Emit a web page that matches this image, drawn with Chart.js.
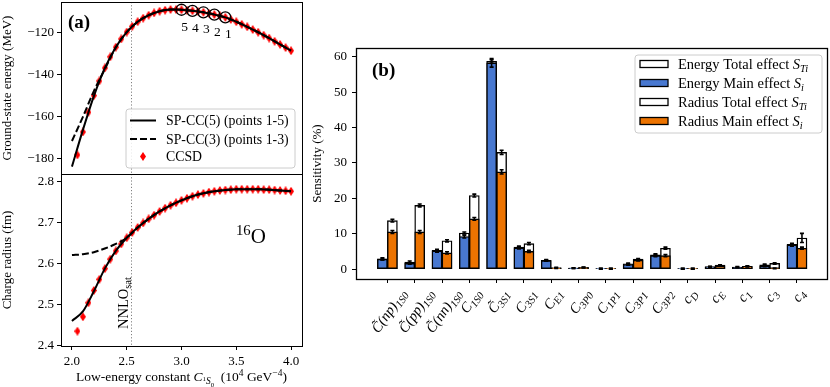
<!DOCTYPE html>
<html>
<head>
<meta charset="utf-8">
<script src="https://cdn.jsdelivr.net/npm/chart.js@4"></script>
<style>
  body { margin: 0; background: #fff; }
  #wrap { position: relative; width: 830px; height: 387px; overflow: hidden; background: #fff; }
  canvas { position: absolute; }
</style>
</head>
<body>
<div id="wrap">
  <canvas id="energyCanvas" width="320" height="176" style="left:0;top:0;width:320px;height:176px"></canvas>
  <canvas id="radiusCanvas" width="320" height="215" style="left:0;top:172px;width:320px;height:215px"></canvas>
  <canvas id="sensCanvas" width="525" height="387" style="left:305px;top:0;width:525px;height:387px"></canvas>
</div>
<script>
// ---- panel (a): CCSD points ----
const cCCSD = [2.05, 2.10, 2.15, 2.20, 2.25, 2.30, 2.35, 2.40, 2.45, 2.50,
               2.55, 2.60, 2.65, 2.70, 2.75, 2.80, 2.85, 2.90, 2.95, 3.00,
               3.05, 3.10, 3.15, 3.20, 3.25, 3.30, 3.35, 3.40, 3.45, 3.50,
               3.55, 3.60, 3.65, 3.70, 3.75, 3.80, 3.85, 3.90, 3.95, 4.00];
const energyCCSD = [-178.4, -167.5, -158.1, -150.2, -143.2, -137.0, -131.7, -127.1, -123.2, -119.9,
                    -117.2, -115.0, -113.3, -111.9, -110.8, -110.0, -109.5, -109.2, -109.2, -109.3,
                    -109.5, -109.8, -110.1, -110.5, -111.0, -111.6, -112.2, -112.9, -113.9, -115.0,
                    -116.2, -117.4, -118.7, -120.0, -121.4, -122.8, -124.3, -125.8, -127.3, -128.8];
const radiusCCSD = [2.436, 2.471, 2.505, 2.535, 2.562, 2.588, 2.611, 2.631, 2.648, 2.663,
                    2.676, 2.688, 2.699, 2.709, 2.718, 2.727, 2.735, 2.742, 2.748, 2.754,
                    2.759, 2.764, 2.768, 2.771, 2.774, 2.776, 2.778, 2.779, 2.780, 2.781,
                    2.781, 2.781, 2.781, 2.781, 2.780, 2.780, 2.779, 2.778, 2.777, 2.776];

// SP-CC emulator curves
const cLine = [2.0, 2.1, 2.2, 2.3, 2.4, 2.5, 2.6, 2.7, 2.8, 2.9, 3.0,
               3.1, 3.2, 3.3, 3.4, 3.5, 3.6, 3.7, 3.8, 3.9, 4.0];
const energySP5 = [-184.0, -166.5, -150.4, -137.1, -127.1, -119.9, -115.0, -111.9, -110.0, -109.2, -109.3,
                   -109.8, -110.5, -111.6, -112.9, -115.0, -117.4, -120.0, -122.8, -125.8, -128.8];
const energySP3 = [-171.8, -160.3, -148.0, -137.6, -127.3, -119.9, -115.0, -111.9, -110.0, -109.2, -109.3,
                   -109.8, -110.5, -111.6, -112.9, -115.0, -117.4, -120.0, -122.8, -125.8, -128.8];
const radiusSP5 = [2.461, 2.484, 2.533, 2.588, 2.631, 2.663, 2.688, 2.709, 2.727, 2.742, 2.754,
                   2.764, 2.771, 2.776, 2.779, 2.781, 2.781, 2.781, 2.780, 2.778, 2.776];
const radiusSP3 = [2.621, 2.623, 2.628, 2.637, 2.648, 2.663, 2.688, 2.709, 2.727, 2.742, 2.754,
                   2.764, 2.771, 2.776, 2.779, 2.781, 2.781, 2.781, 2.780, 2.778, 2.776];

// training points (circled)
const fitC = [3.4, 3.3, 3.2, 3.1, 3.0];
const fitE = [-112.9, -111.6, -110.5, -109.8, -109.3];
const fitLabels = ['1', '2', '3', '4', '5'];
const nnloSat = 2.54;

// ---- panel (b): sensitivity ----
const paramNames = ['C̃(np)_1S0', 'C̃(pp)_1S0', 'C̃(nn)_1S0', 'C_1S0', 'C̃_3S1', 'C_3S1', 'C_E1', 'C_3P0',
                    'C_1P1', 'C_3P1', 'C_3P2', 'c_D', 'c_E', 'c_1', 'c_3', 'c_4'];
const energyTotal    = [2.9, 2.0, 5.3, 10.2, 58.7, 6.2, 2.5, 0.3, 0.1, 1.5, 4.0, 0.1, 0.7, 0.6, 1.2, 7.0];
const energyMain     = [2.8, 1.6, 5.1, 9.2, 58.3, 6.0, 2.4, 0.3, 0.1, 1.3, 3.8, 0.1, 0.6, 0.5, 0.9, 6.8];
const radiusTotal    = [13.7, 18.0, 8.0, 20.8, 33.0, 7.2, 0.4, 0.5, 0.1, 2.8, 5.9, 0.1, 1.1, 0.8, 1.6, 8.8];
const radiusMain     = [10.5, 10.5, 4.6, 14.2, 27.5, 5.0, 0.3, 0.4, 0.1, 2.5, 3.8, 0.1, 0.9, 0.7, 0.2, 5.9];
const energyTotalErr = [0.3, 0.3, 0.3, 0.3, 0.5, 0.3, 0.2, 0.1, 0.1, 0.2, 0.3, 0.1, 0.1, 0.1, 0.2, 0.3];
const energyMainErr  = [0.2, 0.2, 0.3, 0.4, 1.2, 0.3, 0.2, 0.1, 0.1, 0.2, 0.3, 0.1, 0.1, 0.1, 0.2, 0.3];
const radiusTotalErr = [0.4, 0.4, 0.3, 0.4, 0.6, 0.3, 0.1, 0.1, 0.1, 0.2, 0.3, 0.1, 0.1, 0.1, 0.2, 1.3];
const radiusMainErr  = [0.4, 0.4, 0.3, 0.4, 0.6, 0.3, 0.1, 0.1, 0.1, 0.2, 0.3, 0.1, 0.1, 0.1, 0.1, 0.3];

const SERIF = '"Liberation Serif", "DejaVu Serif", serif';
const BLUE = '#4878d0';
const ORANGE = '#ec7300';

Chart.defaults.font.family = SERIF;
Chart.defaults.font.size = 13;
Chart.defaults.color = '#000';

// ---- small rich text helper (italics, sub/superscripts) ----
function T(t) { return { t: t }; }
function It(t) { return { t: t, i: true }; }
function Sub(t, i) { return { t: t, s: 0.72, dy: 0.22, i: i }; }
function Sup(t) { return { t: t, s: 0.7, dy: -0.38 }; }

function richFont(p, size) {
    return (p.i ? 'italic ' : '') + (size * (p.s || 1)).toFixed(2) + 'px ' + SERIF;
}
function richWidth(ctx, parts, size) {
    let w = 0;
    parts.forEach(p => { ctx.font = richFont(p, size); w += ctx.measureText(p.t).width; });
    return w;
}
function drawRich(ctx, parts, x, y, size, align) {
    const w = richWidth(ctx, parts, size);
    let cx = align === 'center' ? x - w / 2 : align === 'right' ? x - w : x;
    ctx.textAlign = 'left';
    ctx.textBaseline = 'alphabetic';
    parts.forEach(p => {
        ctx.font = richFont(p, size);
        ctx.fillText(p.t, cx, y + (p.dy || 0) * size);
        cx += ctx.measureText(p.t).width;
    });
    return w;
}
function paramParts(name) {
    const [main, sub] = name.split('_');
    return [It(main), Sub(sub, true)];
}

function makeDiamond(w, h, color) {
    const c = document.createElement('canvas');
    c.width = w; c.height = h;
    const g = c.getContext('2d');
    g.fillStyle = color;
    g.beginPath();
    g.moveTo(w / 2, 0); g.lineTo(w, h / 2); g.lineTo(w / 2, h); g.lineTo(0, h / 2);
    g.closePath(); g.fill();
    return c;
}
const diamond = makeDiamond(6, 9, '#ff0000');

function fmtMinus(v) { return (v < 0 ? '\u2212' : '') + Math.abs(v); }

function roundBox(ctx, x, y, w, h) {
    ctx.save();
    ctx.beginPath();
    ctx.roundRect(x, y, w, h, 3);
    ctx.fillStyle = 'rgba(255,255,255,0.85)';
    ctx.fill();
    ctx.strokeStyle = '#cccccc';
    ctx.lineWidth = 1;
    ctx.stroke();
    ctx.restore();
}

const framePlugin = {
    id: 'frame',
    afterDraw(chart, args, opts) {
        const { ctx, chartArea: a } = chart;
        ctx.save();
        ctx.strokeStyle = '#000';
        ctx.lineWidth = opts.width || 1;
        ctx.strokeRect(a.left + 0.5, a.top + 0.5, a.right - a.left, a.bottom - a.top);
        ctx.restore();
    }
};

const vlinePlugin = {
    id: 'vline',
    beforeDatasetsDraw(chart) {
        const { ctx, chartArea: a, scales: { x } } = chart;
        const px = Math.round(x.getPixelForValue(nnloSat)) + 0.5;
        ctx.save();
        ctx.strokeStyle = '#808080';
        ctx.lineWidth = 1;
        ctx.setLineDash([1.2, 2]);
        ctx.beginPath(); ctx.moveTo(px, a.top); ctx.lineTo(px, a.bottom); ctx.stroke();
        ctx.restore();
    }
};

function axisY(opts) {
    return Object.assign({
        ticks: { includeBounds: false, padding: 3 },
        grid: { drawOnChartArea: false, tickLength: 4, color: '#000', lineWidth: 1 },
        border: { display: false }
    }, opts);
}

// ---- (a) top: energy ----
new Chart(document.getElementById('energyCanvas'), {
    type: 'scatter',
    data: {
        datasets: [
            { data: fitC.map((c, i) => ({ x: c, y: fitE[i] })), pointStyle: 'circle', pointRadius: 5.5,
              borderColor: '#000', borderWidth: 1.3, backgroundColor: 'rgba(0,0,0,0)', order: 0 },
            { data: cLine.map((c, i) => ({ x: c, y: energySP5[i] })), showLine: true, pointRadius: 0,
              borderColor: '#000', borderWidth: 2, cubicInterpolationMode: 'monotone', order: 1 },
            { data: cLine.map((c, i) => ({ x: c, y: energySP3[i] })), showLine: true, pointRadius: 0,
              borderColor: '#000', borderWidth: 2, borderDash: [7, 3], cubicInterpolationMode: 'monotone', order: 2 },
            { data: cCCSD.map((c, i) => ({ x: c, y: energyCCSD[i] })), pointStyle: diamond, pointRadius: 4, order: 3 }
        ]
    },
    options: {
        responsive: false, animation: false, events: [],
        layout: { autoPadding: false, padding: { left: 0, right: 18, top: 2, bottom: 2 } },
        plugins: { legend: { display: false }, tooltip: { enabled: false }, frame: { width: 1 } },
        scales: {
            x: { type: 'linear', min: 1.9, max: 4.1, display: false },
            y: axisY({
                min: -187.5, max: -105.6,
                ticks: { stepSize: 20, includeBounds: false, padding: 3, callback: v => fmtMinus(v) },
                afterFit: s => { s.width = 61; s.paddingTop = 0; s.paddingBottom = 0; },
                title: { display: true, text: 'Ground-state energy (MeV)', padding: { top: 0 } }
            })
        }
    },
    plugins: [framePlugin, vlinePlugin, {
        id: 'annotA',
        afterDraw(chart) {
            const { ctx, chartArea: a, scales: { x, y } } = chart;
            ctx.save();
            ctx.fillStyle = '#000';
            // numbers under training points
            fitLabels.forEach((lab, i) => {
                drawRich(ctx, [T(lab)], x.getPixelForValue(fitC[i]) + 3, y.getPixelForValue(fitE[i]) + 21, 13.5, 'center');
            });
            ctx.font = 'bold 19px ' + SERIF;
            ctx.fillText('(a)', 68, 28);
            // legend
            const bx = a.right - 176, by = a.bottom - 65;
            roundBox(ctx, bx, by, 169, 59);
            ctx.strokeStyle = '#000'; ctx.lineWidth = 2;
            ctx.beginPath(); ctx.moveTo(bx + 4, by + 11.5); ctx.lineTo(bx + 30, by + 11.5); ctx.stroke();
            ctx.setLineDash([7, 3]);
            ctx.beginPath(); ctx.moveTo(bx + 4, by + 30); ctx.lineTo(bx + 30, by + 30); ctx.stroke();
            ctx.setLineDash([]);
            ctx.drawImage(diamond, bx + 17 - 3, by + 47.5 - 4.5);
            drawRich(ctx, [T('SP-CC(5) (points 1-5)')], bx + 40, by + 16, 13.8, 'left');
            drawRich(ctx, [T('SP-CC(3) (points 1-3)')], bx + 40, by + 34.5, 13.8, 'left');
            drawRich(ctx, [T('CCSD')], bx + 40, by + 52, 13.8, 'left');
            ctx.restore();
        }
    }]
});

// ---- (a) bottom: charge radius ----
new Chart(document.getElementById('radiusCanvas'), {
    type: 'scatter',
    data: {
        datasets: [
            { data: cLine.map((c, i) => ({ x: c, y: radiusSP5[i] })), showLine: true, pointRadius: 0,
              borderColor: '#000', borderWidth: 2, cubicInterpolationMode: 'monotone', order: 1 },
            { data: cLine.map((c, i) => ({ x: c, y: radiusSP3[i] })), showLine: true, pointRadius: 0,
              borderColor: '#000', borderWidth: 2, borderDash: [7, 3], cubicInterpolationMode: 'monotone', order: 2 },
            { data: cCCSD.map((c, i) => ({ x: c, y: radiusCCSD[i] })), pointStyle: diamond, pointRadius: 4, order: 3 }
        ]
    },
    options: {
        responsive: false, animation: false, events: [],
        layout: { autoPadding: false, padding: { left: 0, right: 18, top: 2, bottom: 0 } },
        plugins: { legend: { display: false }, tooltip: { enabled: false }, frame: { width: 1 } },
        scales: {
            x: {
                type: 'linear', min: 1.9, max: 4.1,
                ticks: { stepSize: 0.5, includeBounds: false, padding: 4, maxRotation: 0, callback: v => v.toFixed(1) },
                grid: { drawOnChartArea: false, tickLength: 4, color: '#000' },
                border: { display: false },
                afterFit: s => { s.height = 41; s.paddingLeft = 0; s.paddingRight = 0; }
            },
            y: axisY({
                min: 2.4, max: 2.818,
                ticks: { stepSize: 0.1, includeBounds: false, padding: 3, callback: v => v.toFixed(1) },
                afterFit: s => { s.width = 61; s.paddingTop = 0; s.paddingBottom = 0; },
                title: { display: true, text: 'Charge radius (fm)', padding: { top: 0 } }
            })
        }
    },
    plugins: [framePlugin, vlinePlugin, {
        id: 'annotR',
        afterDraw(chart) {
            const { ctx, chartArea: a, scales: { x } } = chart;
            ctx.save();
            ctx.fillStyle = '#000';
            drawRich(ctx, [T('Low-energy constant '), It('C'), { t: '1', s: 0.5, dy: 0.02 },
                { t: 'S', s: 0.7, dy: 0.25, i: true }, { t: '0', s: 0.5, dy: 0.42 },
                T('  (10'), Sup('4'), T(' GeV'), Sup('\u22124'), T(')')],
                (a.left + a.right) / 2, 209, 13.5, 'center');
            drawRich(ctx, [Sup('16'), T('O')], 236, 70.5, 21, 'left');
            ctx.translate(x.getPixelForValue(nnloSat) - 3.5, 157);
            ctx.rotate(-Math.PI / 2);
            drawRich(ctx, [T('NNLO'), Sub('sat')], 0, 0, 14.5, 'left');
            ctx.restore();
        }
    }]
});

// ---- (b) sensitivity bars ----
function toXY(vals) { return vals.map((v, i) => ({ x: i, y: v })); }

new Chart(document.getElementById('sensCanvas'), {
    type: 'bar',
    data: {
        datasets: [
            { label: 'Energy Total effect', data: toXY(energyTotal), errors: energyTotalErr, stack: 'energy', backgroundColor: '#ffffff', order: 2 },
            { label: 'Energy Main effect', data: toXY(energyMain), errors: energyMainErr, stack: 'energy', backgroundColor: BLUE, order: 1 },
            { label: 'Radius Total effect', data: toXY(radiusTotal), errors: radiusTotalErr, stack: 'radius', backgroundColor: '#ffffff', order: 2 },
            { label: 'Radius Main effect', data: toXY(radiusMain), errors: radiusMainErr, stack: 'radius', backgroundColor: ORANGE, order: 1 }
        ]
    },
    options: {
        responsive: false, animation: false, events: [],
        layout: { autoPadding: false, padding: { left: 0, right: 3, top: 48, bottom: 0 } },
        datasets: { bar: { barThickness: 10, borderColor: '#000', borderWidth: 1.4, borderSkipped: false } },
        plugins: { legend: { display: false }, tooltip: { enabled: false }, frame: { width: 1.3 } },
        scales: {
            x: {
                type: 'linear', stacked: true, offset: false, min: -1.15, max: 16.1,
                afterBuildTicks: s => { s.ticks = paramNames.map((_, i) => ({ value: i })); },
                ticks: { display: false },
                grid: { offset: false, drawOnChartArea: false, tickLength: 4, color: '#000' },
                border: { display: false },
                afterFit: s => { s.height = 108; s.paddingLeft = 0; s.paddingRight = 0; }
            },
            y: axisY({
                stacked: false, min: -2.8, max: 62.5,
                ticks: { stepSize: 10, includeBounds: false, padding: 5 },
                afterFit: s => { s.width = 51; s.paddingTop = 0; s.paddingBottom = 0; },
                title: { display: true, text: 'Sensitivity (%)', padding: { top: 5 } }
            })
        }
    },
    plugins: [framePlugin, {
        id: 'errorBars',
        afterDatasetsDraw(chart) {
            const { ctx, scales: { y } } = chart;
            ctx.save();
            ctx.strokeStyle = '#000';
            ctx.lineWidth = 1.6;
            chart.data.datasets.forEach((ds, di) => {
                chart.getDatasetMeta(di).data.forEach((bar, j) => {
                    const v = ds.data[j].y, e = ds.errors[j];
                    const top = y.getPixelForValue(v + e), bot = y.getPixelForValue(v - e);
                    ctx.beginPath();
                    ctx.moveTo(bar.x, top); ctx.lineTo(bar.x, bot);
                    ctx.moveTo(bar.x - 2, top); ctx.lineTo(bar.x + 2, top);
                    ctx.moveTo(bar.x - 2, bot); ctx.lineTo(bar.x + 2, bot);
                    ctx.stroke();
                });
            });
            ctx.restore();
        }
    }, {
        id: 'annotB',
        afterDraw(chart) {
            const { ctx, chartArea: a, scales: { x } } = chart;
            ctx.save();
            ctx.fillStyle = '#000';
            // rotated parameter labels
            const ang = 55 * Math.PI / 180, size = 14.5, h = size * 0.9;
            paramNames.forEach((name, i) => {
                const parts = paramParts(name);
                const w = richWidth(ctx, parts, size);
                const H = w * Math.sin(ang) + h * Math.cos(ang);
                ctx.save();
                ctx.translate(x.getPixelForValue(i) + 1.5, a.bottom + 8 + H / 2);
                ctx.rotate(-ang);
                drawRich(ctx, parts, 0, size * 0.32, size, 'center');
                ctx.restore();
            });
            ctx.font = 'bold 19px ' + SERIF;
            ctx.textAlign = 'left';
            ctx.fillText('(b)', 67, 76);
            // legend
            const bx = a.right - 192, by = a.top + 7;
            roundBox(ctx, bx, by, 187, 78);
            const rows = [['Energy Total effect ', 'Ti', '#ffffff'], ['Energy Main effect ', 'i', BLUE],
                          ['Radius Total effect ', 'Ti', '#ffffff'], ['Radius Main effect ', 'i', ORANGE]];
            rows.forEach((r, k) => {
                const cy = by + 9 + k * 19;
                ctx.fillStyle = r[2];
                ctx.fillRect(bx + 5, cy - 3.5, 28, 7);
                ctx.strokeStyle = '#000'; ctx.lineWidth = 1.3;
                ctx.strokeRect(bx + 5, cy - 3.5, 28, 7);
                ctx.fillStyle = '#000';
                drawRich(ctx, [T(r[0]), It('S'), Sub(r[1], true)], bx + 43, cy + 4.5, 14.5, 'left');
            });
            ctx.restore();
        }
    }]
});
</script>
</body>
</html>
